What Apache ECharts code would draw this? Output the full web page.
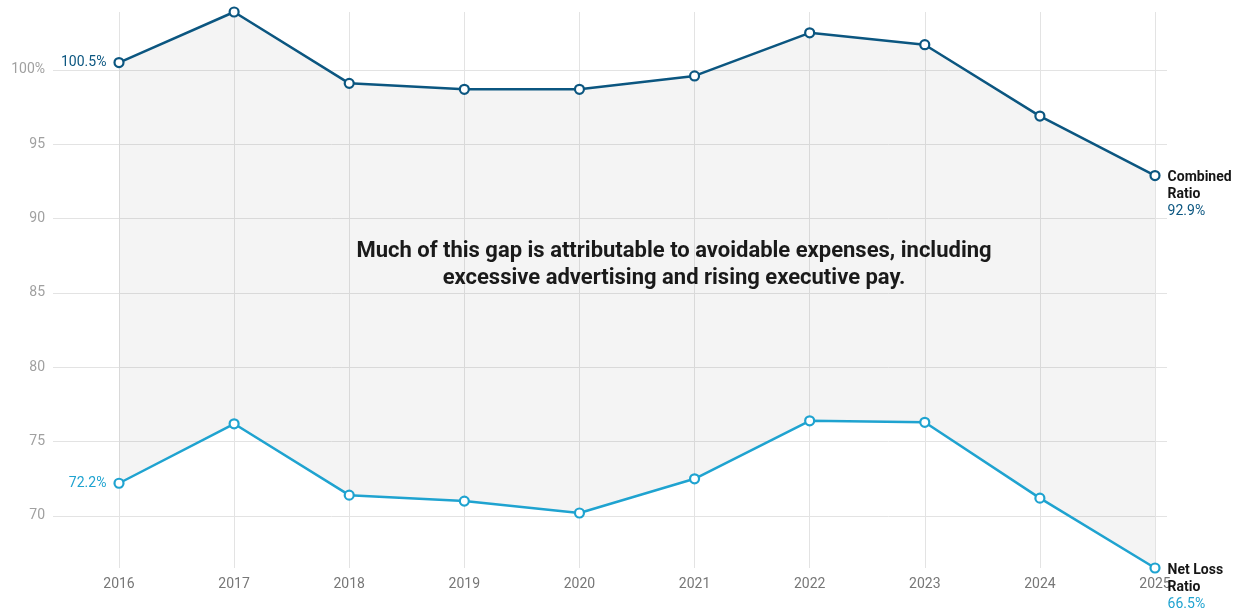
<!DOCTYPE html>
<html>
<head>
<meta charset="utf-8">
<script src="https://cdn.jsdelivr.net/npm/echarts@6/dist/echarts.min.js"></script>
<style>
html,body{margin:0;padding:0;background:#fff;}
#chart{width:1245px;height:610px;}
</style>
</head>
<body>
<div id="chart"></div>
<script>
const years = ['2016','2017','2018','2019','2020','2021','2022','2023','2024','2025'];
const combined = [100.5, 103.9, 99.1, 98.7, 98.7, 99.6, 102.5, 101.7, 96.9, 92.9];
const netLoss = [72.2, 76.2, 71.4, 71.0, 70.2, 72.5, 76.4, 76.3, 71.2, 66.5];
const combinedName = ['Combined', 'Ratio'];
const netLossName = ['Net Loss', 'Ratio'];
const annotation = 'Much of this gap is attributable to avoidable expenses, including\nexcessive advertising and rising executive pay.';

const COMBINED_COLOR = '#0b5680';
const NET_COLOR = '#1fa3d0';
const FONT = 'Roboto, "Noto Sans", sans-serif';

const yMin = Math.min(...netLoss);
const yMax = Math.max(...combined);
const gap = combined.map((v, i) => +(v - netLoss[i]).toFixed(2));

function withEndLabels(values, color, nameLines) {
  const last = values.length - 1;
  return values.map((v, i) => {
    if (i === 0) {
      return { value: v, label: { show: true, position: 'left', distance: 7,
        formatter: '{c}%', color: color, fontSize: 14, fontFamily: FONT } };
    }
    if (i === last) {
      return { value: v, label: { show: true, position: 'right', distance: 7,
        offset: [0, 19],
        formatter: '{n|' + nameLines[0] + '}\n{n|' + nameLines[1] + '}\n{v|' + v + '%}',
        rich: {
          n: { fontWeight: 'bold', color: '#161616', fontSize: 14, lineHeight: 17, fontFamily: FONT },
          v: { color: color, fontSize: 14, lineHeight: 17, fontFamily: FONT }
        } } };
    }
    return v;
  });
}

const chart = echarts.init(document.getElementById('chart'), null, { renderer: 'canvas' });
chart.setOption({
  animation: false,
  backgroundColor: '#fff',
  textStyle: { fontFamily: FONT },
  grid: [
    { left: 53, right: 78, top: 12, bottom: 42 },
    { left: 119, right: 90, top: 12, bottom: 42 }
  ],
  xAxis: [
    { gridIndex: 0, type: 'value', min: 0, max: 1, show: false },
    { gridIndex: 1, type: 'category', data: years, boundaryGap: false,
      axisLine: { show: false }, axisTick: { show: false },
      axisLabel: { color: '#777', fontSize: 14, margin: 9, interval: 0, fontFamily: FONT },
      splitLine: { show: true, lineStyle: { color: '#e3e3e3', width: 1 } } }
  ],
  yAxis: [
    { gridIndex: 0, type: 'value', min: yMin, max: yMax, splitNumber: 7,
      axisLine: { show: false }, axisTick: { show: false },
      axisLabel: { color: '#a0a0a0', fontSize: 14, margin: 8, fontFamily: FONT,
        padding: [3, 0, 0, 0],
        showMinLabel: false, showMaxLabel: false,
        formatter: v => (v === 100 ? '100%' : String(v)) },
      splitLine: { show: true, showMinLine: false, showMaxLine: false,
        lineStyle: { color: '#e3e3e3', width: 1 } } },
    { gridIndex: 1, type: 'value', min: yMin, max: yMax, show: false, splitLine: { show: false } }
  ],
  graphic: [{
    type: 'text', x: 674, y: 265, z: 100,
    style: { text: annotation, textAlign: 'center', textVerticalAlign: 'middle',
      font: 'bold 22px ' + FONT, lineHeight: 27, fill: '#1a1a1a' }
  }],
  series: [
    { type: 'line', name: 'base', xAxisIndex: 1, yAxisIndex: 1, stack: 'gap', data: netLoss,
      symbol: 'none', lineStyle: { opacity: 0 }, silent: true, clip: false },
    { type: 'line', name: 'gap', xAxisIndex: 1, yAxisIndex: 1, stack: 'gap', data: gap,
      symbol: 'none', lineStyle: { opacity: 0 }, areaStyle: { color: 'rgba(0,0,0,0.063)' },
      silent: true, clip: false },
    { type: 'line', name: 'Combined Ratio', xAxisIndex: 1, yAxisIndex: 1,
      data: withEndLabels(combined, COMBINED_COLOR, combinedName),
      symbol: 'circle', symbolSize: 9, showAllSymbol: true, clip: false, z: 5,
      lineStyle: { color: COMBINED_COLOR, width: 2.5 },
      itemStyle: { color: '#fff', borderColor: COMBINED_COLOR, borderWidth: 2.2 } },
    { type: 'line', name: 'Net Loss Ratio', xAxisIndex: 1, yAxisIndex: 1,
      data: withEndLabels(netLoss, NET_COLOR, netLossName),
      symbol: 'circle', symbolSize: 9, showAllSymbol: true, clip: false, z: 5,
      lineStyle: { color: NET_COLOR, width: 2.5 },
      itemStyle: { color: '#fff', borderColor: NET_COLOR, borderWidth: 2.2 } }
  ]
});
</script>
</body>
</html>
